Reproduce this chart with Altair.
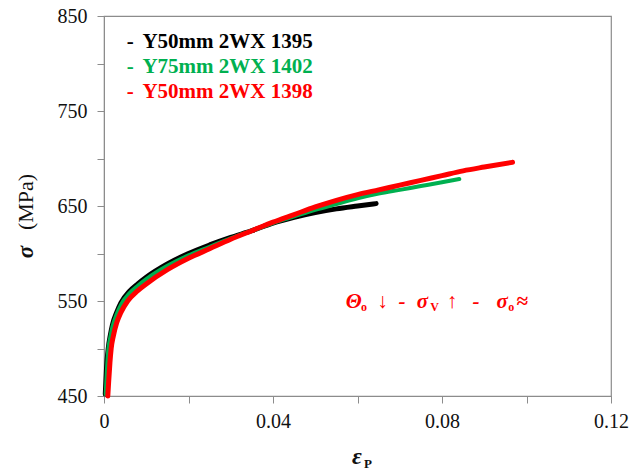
import altair as alt
import pandas as pd

# ---- data ----
black_eps = [0.0003, 0.0006, 0.001, 0.0015, 0.002, 0.003, 0.004, 0.006, 0.008, 0.01,
             0.015, 0.02, 0.025, 0.03, 0.035, 0.04, 0.045, 0.05, 0.055, 0.06, 0.0644]
black_sig = [452, 480, 500, 514, 525, 538, 548, 560, 568, 575,
             589, 600, 609, 617, 624, 632, 638, 643, 647, 650, 652.5]

green_eps = [0.0004, 0.0007, 0.001, 0.0015, 0.002, 0.003, 0.004, 0.006, 0.008, 0.01,
             0.015, 0.02, 0.025, 0.03, 0.035, 0.04, 0.045, 0.05, 0.055, 0.06,
             0.065, 0.07, 0.075, 0.08, 0.0841]
green_sig = [452, 478, 498, 512, 523, 536, 546, 558, 566, 573,
             587, 598, 607, 616, 624, 632, 639, 646, 652, 658,
             663, 667, 671, 675, 678.4]

red_eps = [0.0009, 0.0011, 0.0014, 0.0017, 0.0022, 0.003, 0.004, 0.0056, 0.008, 0.01,
           0.015, 0.02, 0.025, 0.03, 0.035, 0.04, 0.045, 0.05, 0.055, 0.06,
           0.065, 0.07, 0.075, 0.08, 0.085, 0.09, 0.0967]
red_sig = [450, 465, 485, 500, 513, 527, 538, 550, 561, 568,
           583, 595, 605, 615, 624, 633, 641, 649, 656, 662,
           667, 672, 677, 682, 687, 691, 696]

series_names = ["Y50mm 2WX 1395", "Y75mm 2WX 1402", "Y50mm 2WX 1398"]
series_colors = ["#000000", "#00B050", "#FF0000"]

x_ticks = [0, 0.02, 0.04, 0.06, 0.08, 0.10, 0.12]
y_ticks = [450, 500, 550, 600, 650, 700, 750, 800, 850]

# legend rows (data-space anchor positions)
legend_dash_x = [0.0054, 0.0054, 0.0054]
legend_text_x = [0.0091, 0.0091, 0.0091]
legend_y = [816, 790, 764]

# annotation pieces
ann_main_text = ["Θ", "↓", "-", "σ", "↑", "-", "σ", "≈"]
ann_main_x = [0.0572, 0.0647, 0.0697, 0.0740, 0.0811, 0.0872, 0.0929, 0.0976]
ann_sub_text = ["o", "V", "o"]
ann_sub_x = [0.0608, 0.0772, 0.0957]
ann_main_y = 542.5
ann_sub_y = 539.5

GRAY = "#8c8c8c"
FONT = "Liberation Serif, Times New Roman, Times, serif"

x_scale = alt.Scale(domain=[0, 0.12], nice=False, zero=False)
y_scale = alt.Scale(domain=[450, 850], nice=False, zero=False)

x_axis = alt.Axis(values=x_ticks, title=None, grid=False,
                  labelExpr="datum.value == 0 ? '0' : (round(datum.value*100) % 4 == 0 ? format(datum.value, '.2f') : '')",
                  labelFont=FONT, labelFontSize=20, labelColor="#111111",
                  tickColor=GRAY, tickSize=7, domainColor=GRAY, labelPadding=8,
                  labelFlush=False, labelOverlap=False)
y_axis = alt.Axis(values=y_ticks, title=None, grid=False,
                  labelExpr="(datum.value - 450) % 100 == 0 ? datum.label : ''",
                  labelFont=FONT, labelFontSize=20, labelColor="#111111",
                  tickColor=GRAY, tickSize=7, domainColor=GRAY, labelPadding=10,
                  labelFlush=False, labelOverlap=False)

def curve(eps, sig, color, width):
    df = pd.DataFrame({"eps": eps, "sig": sig})
    return alt.Chart(df).mark_line(color=color, strokeWidth=width, strokeCap="round",
                                   strokeJoin="round", interpolate="monotone").encode(
        x=alt.X("eps:Q", scale=x_scale, axis=x_axis),
        y=alt.Y("sig:Q", scale=y_scale, axis=y_axis),
    )

black = curve(black_eps, black_sig, series_colors[0], 5)
green = curve(green_eps, green_sig, series_colors[1], 4)
red = curve(red_eps, red_sig, series_colors[2], 5)

leg_df = pd.DataFrame({"name": series_names, "color": series_colors,
                       "dx": legend_dash_x, "tx": legend_text_x, "y": legend_y,
                       "dash": ["-"] * 3})
color_scale = alt.Scale(domain=series_names, range=series_colors)
leg_dash = alt.Chart(leg_df).mark_text(font=FONT, fontSize=21, fontWeight="bold",
                                       align="left", baseline="alphabetic").encode(
    x=alt.X("dx:Q", scale=x_scale), y=alt.Y("y:Q", scale=y_scale), text="dash:N",
    color=alt.Color("name:N", scale=color_scale, legend=None))
leg_text = alt.Chart(leg_df).mark_text(font=FONT, fontSize=21, fontWeight="bold",
                                       align="left", baseline="alphabetic").encode(
    x=alt.X("tx:Q", scale=x_scale), y=alt.Y("y:Q", scale=y_scale), text="name:N",
    color=alt.Color("name:N", scale=color_scale, legend=None))

ann_main_df = pd.DataFrame({"t": ann_main_text, "x": ann_main_x, "y": [ann_main_y] * len(ann_main_text)})
ann_sub_df = pd.DataFrame({"t": ann_sub_text, "x": ann_sub_x, "y": [ann_sub_y] * len(ann_sub_text)})
ann_main = alt.Chart(ann_main_df).mark_text(font=FONT, fontSize=21, fontWeight="bold",
                                            fontStyle="italic", color="#FF0000",
                                            align="left", baseline="alphabetic").encode(
    x=alt.X("x:Q", scale=x_scale), y=alt.Y("y:Q", scale=y_scale), text="t:N")
ann_sub = alt.Chart(ann_sub_df).mark_text(font=FONT, fontSize=12, fontWeight="bold",
                                          color="#FF0000", align="left",
                                          baseline="alphabetic").encode(
    x=alt.X("x:Q", scale=x_scale), y=alt.Y("y:Q", scale=y_scale), text="t:N")

# axis titles (mixed styles, so drawn as text)
one = pd.DataFrame({"a": [0]})
y_sigma = alt.Chart(one).mark_text(text="σ", font=FONT, fontSize=23, fontWeight="bold",
                                   fontStyle="italic", angle=270, align="center",
                                   baseline="middle", color="#111111").encode(
    x=alt.value(-78), y=alt.value(236))
y_unit = alt.Chart(one).mark_text(text="(MPa)", font=FONT, fontSize=22, angle=270,
                                  align="center", baseline="middle", color="#111111").encode(
    x=alt.value(-78), y=alt.value(186))
x_eps = alt.Chart(one).mark_text(text="ε", font=FONT, fontSize=24, fontWeight="bold",
                                 fontStyle="italic", align="center", baseline="alphabetic",
                                 color="#111111").encode(
    x=alt.value(253), y=alt.value(448))
x_sub = alt.Chart(one).mark_text(text="P", font=FONT, fontSize=13, fontWeight="bold",
                                 align="left", baseline="alphabetic", color="#111111").encode(
    x=alt.value(260), y=alt.value(452))

chart = alt.layer(black, green, red, leg_dash, leg_text, ann_main, ann_sub,
                  y_sigma, y_unit, x_eps, x_sub).properties(
    width=507, height=380,
    autosize=alt.AutoSizeParams(type="none"),
    padding={"left": 104, "top": 16, "right": 31, "bottom": 74},
    background="white",
).configure_view(stroke=GRAY, strokeWidth=1.2)

chart.save("out.html", embed_options={"renderer": "svg", "actions": False})
